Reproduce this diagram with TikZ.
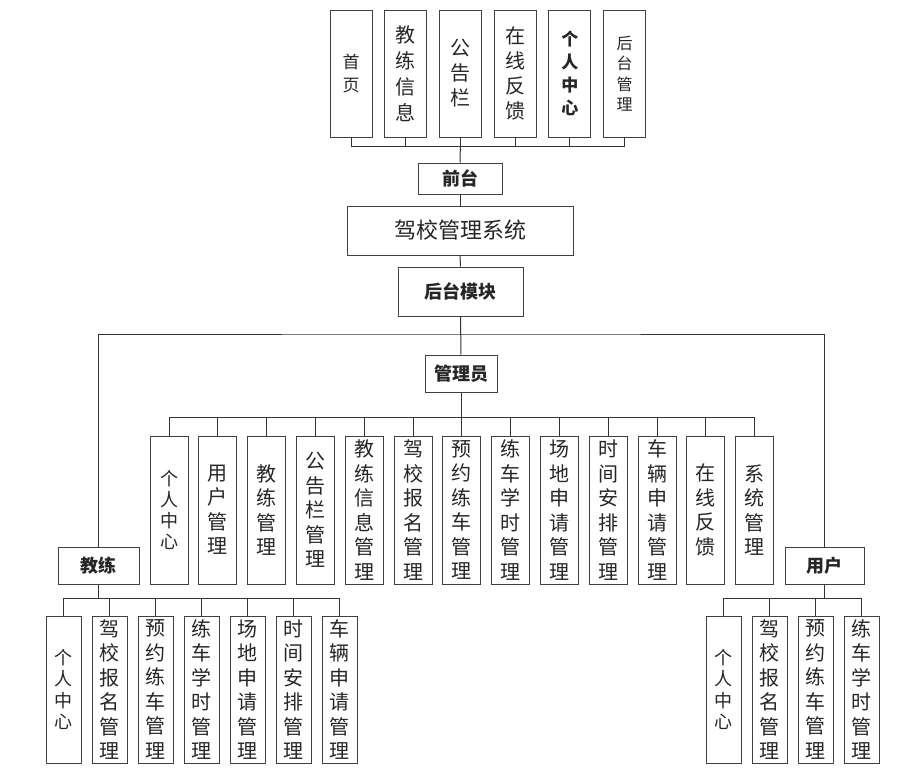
\documentclass[tikz,border=0pt]{standalone}
\usepackage{fontspec}
\newfontfamily\cjk{Noto Sans CJK SC}
\tikzset{
  box/.style={draw=black!75, line width=1pt, fill=white, inner sep=0pt, text=black!85,
    font=\cjk\fontsize{20}{24.5}\selectfont, align=center},
  vbox/.style={box, minimum width=38pt, minimum height=148pt},
  cbox/.style={vbox, minimum width=35pt, minimum height=147pt},
  pcbox/.style={font=\cjk\fontsize{18}{21.3}\selectfont},
  hbox/.style={box, font=\cjk\bfseries\fontsize{18}{20}\selectfont, minimum height=37pt},
  link/.style={draw=black!80, line width=1pt},
}
\begin{document}
\begin{tikzpicture}[x=1pt, y=-1pt]
    \useasboundingbox (0,0) rectangle (924,782);
    % front part
    \foreach \t/\f [count=\i] in {{首\\页}/{\fontsize{17}{23.5}},{教\\练\\信\\息}/{\fontsize{20}{26}},{公\\告\\栏}/{\fontsize{20}{25}},
        {在\\线\\反\\馈}/{\fontsize{20}{25}},{个\\人\\中\\心}/{\bfseries\fontsize{17}{23}},{后\\台\\管\\理}/{\fontsize{16}{20.5}}}
        \node[vbox, font=\cjk\f\selectfont, minimum width=42pt, minimum height=127pt] (top\i) at ({351+(\i-1)*54.7},73.5) {\t};
    \node[hbox, minimum width=84pt, minimum height=31pt] (qt) at (460,178.5) {前台};
    \node[box, font=\cjk\fontsize{22}{24}\selectfont, minimum width=226pt, minimum height=49pt] (sys) at (460,230.5) {驾校管理系统};
    \node[hbox, minimum width=125pt, minimum height=49pt] (ht) at (460.5,291.5) {后台模块};
    \coordinate (fbus) at (460.4,146);
    \foreach \i in {1,...,6} { \draw[link] (top\i.south) |- (fbus); }
    \draw[link] (fbus) -- (qt.north);
    \draw[link] (qt.south) -- (sys.north);
    \draw[link] (sys.south) -- (ht.north);
    % back part
    \node[hbox, minimum width=72pt] (gly) at (461,373.5) {管理员};
    \node[hbox, minimum width=81pt] (jl) at (98.5,565.5) {教练};
    \node[hbox, minimum width=79pt] (yh) at (824.5,565.5) {用户};
    \coordinate (bbus) at (461,334);
    \draw[link] (ht.south) -- (gly.north);
    \draw[link] (jl.north) |- (bbus) -| (yh.north);
    % admin
    \coordinate (abus) at (461,417.5);
    \draw[link] (gly.south) -- (abus);
    \node[vbox, pcbox] (adm1) at (169,510) {个\\人\\中\\心};
    \foreach \t [count=\i from 2] in {{用\\户\\管\\理},{教\\练\\管\\理},{公\\告\\栏\\管\\理},{教\\练\\信\\息\\管\\理},
        {驾\\校\\报\\名\\管\\理},{预\\约\\练\\车\\管\\理},{练\\车\\学\\时\\管\\理},{场\\地\\申\\请\\管\\理},
        {时\\间\\安\\排\\管\\理},{车\\辆\\申\\请\\管\\理},{在\\线\\反\\馈},{系\\统\\管\\理}}
        \node[vbox] (adm\i) at ({169+(\i-1)*48.8},510) {\t};
    \foreach \i in {1,...,13} { \draw[link] (adm\i.north) |- (abus); }
    % coach
    \coordinate (cbus) at (98.5,598);
    \draw[link] (jl.south) -- (cbus);
    \node[cbox, pcbox] (co1) at (63.5,689.5) {个\\人\\中\\心};
    \foreach \t [count=\i from 2] in {{驾\\校\\报\\名\\管\\理},{预\\约\\练\\车\\管\\理},{练\\车\\学\\时\\管\\理},
        {场\\地\\申\\请\\管\\理},{时\\间\\安\\排\\管\\理},{车\\辆\\申\\请\\管\\理}}
        \node[cbox] (co\i) at ({63.5+(\i-1)*46},689.5) {\t};
    \foreach \i in {1,...,7} { \draw[link] (co\i.north) |- (cbus); }
    % user
    \coordinate (ubus) at (824.5,598);
    \draw[link] (yh.south) -- (ubus);
    \node[cbox, pcbox] (us1) at (723.5,689.5) {个\\人\\中\\心};
    \foreach \t [count=\i from 2] in {{驾\\校\\报\\名\\管\\理},{预\\约\\练\\车\\管\\理},{练\\车\\学\\时\\管\\理}}
        \node[cbox] (us\i) at ({723.5+(\i-1)*46},689.5) {\t};
    \foreach \i in {1,...,4} { \draw[link] (us\i.north) |- (ubus); }
\end{tikzpicture}
\end{document}
